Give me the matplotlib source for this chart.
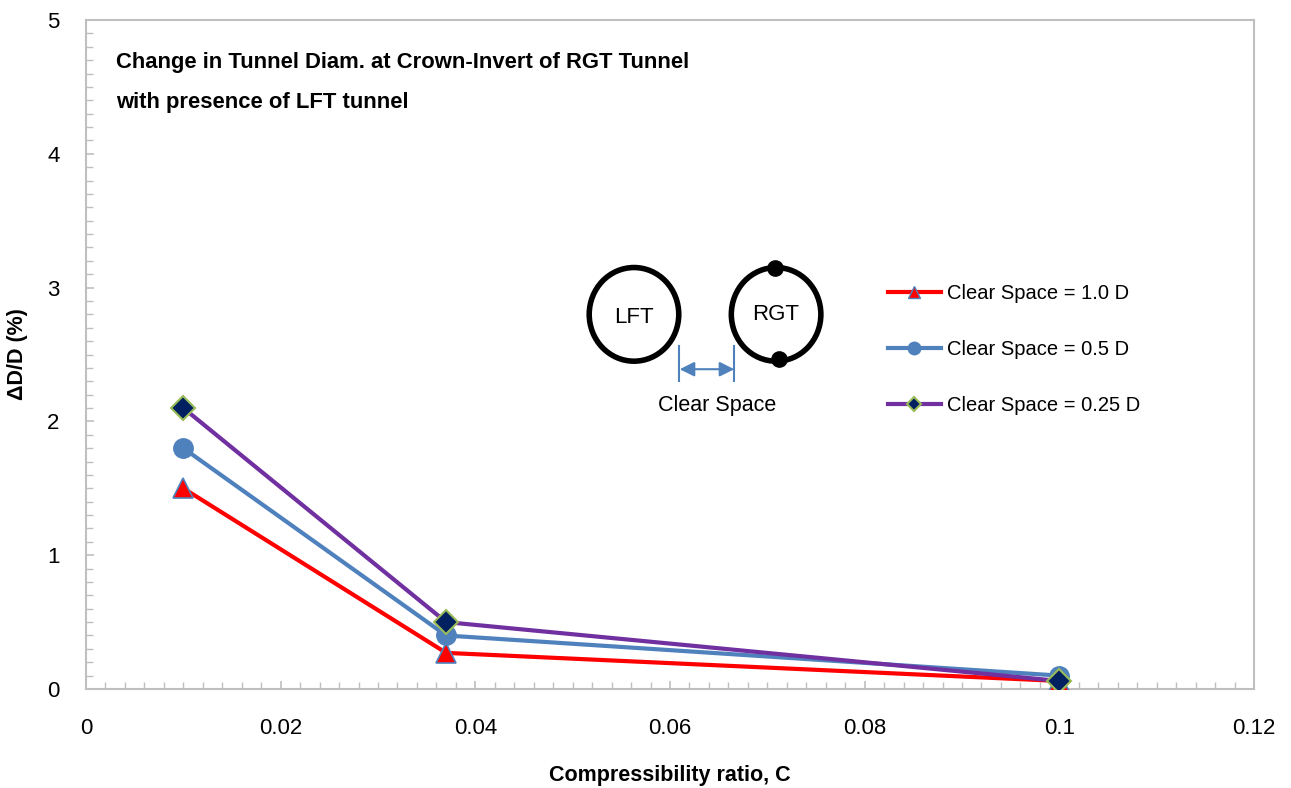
import matplotlib.pyplot as plt
from matplotlib.lines import Line2D
from matplotlib.patches import Ellipse
from matplotlib.ticker import MultipleLocator

plt.rcParams['font.family'] = ['Liberation Sans', 'DejaVu Sans']

# data
compress_ratio = [0.01, 0.037, 0.1]
space_1_0 = [1.5, 0.27, 0.06]
space_0_5 = [1.8, 0.40, 0.10]
space_0_25 = [2.1, 0.50, 0.06]
labels = ['Clear Space = 1.0 D', 'Clear Space = 0.5 D', 'Clear Space = 0.25 D']
x_ticks = [0, 0.02, 0.04, 0.06, 0.08, 0.1, 0.12]
x_ticklabels = ['0', '0.02', '0.04', '0.06', '0.08', '0.1', '0.12']
y_ticks = [0, 1, 2, 3, 4, 5]

fig = plt.figure(figsize=(12.91, 7.88), dpi=100)
ax = fig.add_axes([86 / 1291, 1 - 689 / 788, (1254 - 86) / 1291, (689 - 20) / 788])

ax.plot(compress_ratio, space_1_0, color='#FF0000', lw=3, marker='^', ms=14,
        mfc='#FF0000', mec='#4F81BD', mew=1.2, zorder=3)
ax.plot(compress_ratio, space_0_5, color='#4F81BD', lw=3, marker='o', ms=14,
        mfc='#4F81BD', mec='#4F81BD', zorder=4)
ax.plot(compress_ratio, space_0_25, color='#7030A0', lw=3, marker='D', ms=12,
        mfc='#002060', mec='#9BBB59', mew=1.5, zorder=5)

ax.set_xlim(0, 0.12)
ax.set_ylim(0, 5)
ax.set_xticks(x_ticks)
ax.set_xticklabels(x_ticklabels)
ax.set_yticks(y_ticks)
ax.set_yticklabels([str(v) for v in y_ticks])
ax.xaxis.set_minor_locator(MultipleLocator(0.002))
ax.yaxis.set_minor_locator(MultipleLocator(0.1))
ax.tick_params(which='both', direction='in', color='#BFBFBF', labelsize=16)
ax.tick_params(which='major', length=6, width=1.2)
ax.tick_params(which='minor', length=5, width=1)
ax.tick_params(axis='x', which='major', pad=21)
ax.tick_params(axis='y', which='major', pad=19)
for s in ax.spines.values():
    s.set_color('#BFBFBF')
    s.set_linewidth(1.5)

ax.set_xlabel('Compressibility ratio, C', fontsize=15.5, fontweight='bold', va='center')
ax.set_ylabel('ΔD/D (%)', fontsize=15.5, fontweight='bold', va='center')
ax.xaxis.set_label_coords(0.5, -(775 - 689) / 669)
ax.yaxis.set_label_coords(-(86 - 18) / 1168, 0.5)

ax.text(0.0031, 4.68, 'Change in Tunnel Diam. at Crown-Invert of RGT Tunnel',
        fontsize=15.8, fontweight='bold', va='center')
ax.text(0.0031, 4.38, 'with presence of LFT tunnel',
        fontsize=15.8, fontweight='bold', va='center')

# tunnel sketch
ax.add_patch(Ellipse((0.0563, 2.80), 0.0092, 0.70, fill=False, lw=4, ec='black'))
ax.add_patch(Ellipse((0.0709, 2.80), 0.0092, 0.70, fill=False, lw=4, ec='black'))
ax.text(0.0563, 2.78, 'LFT', fontsize=16, ha='center', va='center')
ax.text(0.0709, 2.80, 'RGT', fontsize=16, ha='center', va='center')
ax.plot([0.0708, 0.0712], [3.15, 2.47], 'o', color='black', ms=11)
ax.annotate('', xy=(0.0610, 2.39), xytext=(0.0666, 2.39),
            arrowprops=dict(arrowstyle='<|-|>', color='#4F81BD', lw=1.5,
                            mutation_scale=22, shrinkA=0, shrinkB=0))
ax.plot([0.0609, 0.0609], [2.30, 2.56], color='#4F81BD', lw=1.5)
ax.plot([0.0666, 0.0666], [2.30, 2.56], color='#4F81BD', lw=1.5)
ax.text(0.0648, 2.12, 'Clear Space', fontsize=15.5, ha='center', va='center')

handles = [
    Line2D([], [], color='#FF0000', lw=3, marker='^', ms=9, mfc='#FF0000', mec='#4F81BD'),
    Line2D([], [], color='#4F81BD', lw=3, marker='o', ms=9, mfc='#4F81BD', mec='#4F81BD'),
    Line2D([], [], color='#7030A0', lw=3, marker='D', ms=7, mfc='#002060', mec='#9BBB59', mew=1.5),
]
ax.legend(handles, labels, loc='upper left', bbox_to_anchor=(0.68, 0.617),
          frameon=False, fontsize=14.5, handlelength=2.6, handletextpad=0.3,
          labelspacing=1.82, borderaxespad=0)

fig.savefig('out.png', dpi=100)
